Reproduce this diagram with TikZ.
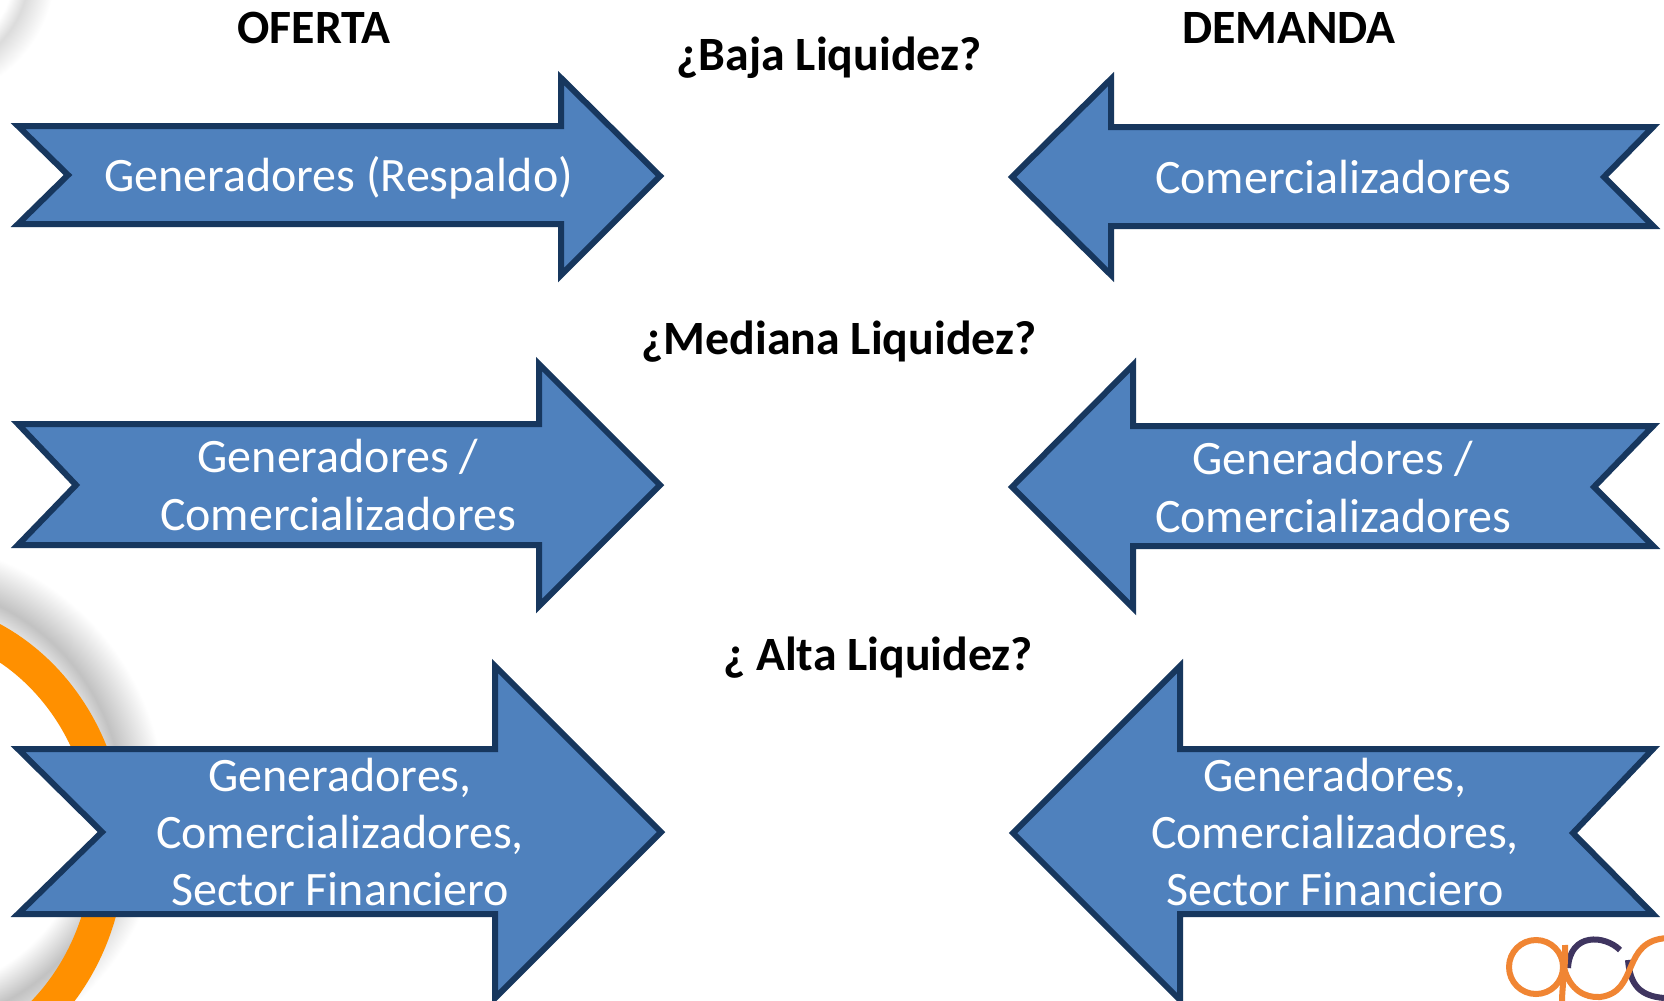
\documentclass[tikz,border=0pt]{standalone}
\usepackage{fontspec}
\setmainfont{Carlito}
\pgfdeclarelayer{bg}
\pgfsetlayers{bg,main}
\pgfdeclareradialshading{halo}{\pgfpoint{0bp}{0bp}}{color(0bp)=(white); color(18bp)=(white); color(21bp)=(black!24); color(25bp)=(white); color(50bp)=(white)}
\pgfdeclareradialshading{halotop}{\pgfpoint{0bp}{0bp}}{color(0bp)=(white); color(17bp)=(white); color(20bp)=(black!14); color(25bp)=(white); color(50bp)=(white)}
\definecolor{arrowfill}{HTML}{4F81BD}
\definecolor{arrowline}{HTML}{17375E}
\definecolor{ringorange}{HTML}{FF9000}
\definecolor{logoorange}{HTML}{F08533}
\definecolor{logopurple}{HTML}{3F3560}
\tikzset{
    arrowbox/.style={draw=arrowline, fill=arrowfill, line width=6*0.2845pt, miter limit=10},
    arrowtext/.style={text=white, align=center, font=\fontsize{13.65}{16.3}\selectfont, inner sep=0mm},
    heading/.style={text=black, font=\fontsize{13.6}{16}\selectfont\bfseries, inner sep=0mm},
    logoline/.style={line width=6*0.2845pt}
}

\begin{document}
\begin{tikzpicture}[x=0.01cm, y=-0.01cm]
    \useasboundingbox (0,0) rectangle (1664,1000);
    \clip (0,0) rectangle (1664,1000);

    \begin{pgfonlayer}{bg}
        \fill [white] (0,0) rectangle (1664,1000);
        \shade [shading=halo] (-100,805) circle (265);
        \shade [shading=halotop] (-75,-30) circle (130);
        \draw [ringorange, line width=33*0.2845pt] (-100,845) ellipse (209 and 230);
        \fill [white] (18,749) -- (102,832) -- (18,914) -- cycle;

        \draw [logoline, logopurple] (1620,950) .. controls (1605,935) and (1570,932) .. (1568,968);
        \draw [logoline, logopurple] (1628,960) .. controls (1630,985) and (1640,996) .. (1664,998);
        \draw [logoline, logoorange] (1536,967) circle (27);
        \draw [logoline, logoorange] (1565,945) .. controls (1566,965) and (1562,985) .. (1562,1002);
        \draw [logoline, logoorange] (1564,968) .. controls (1570,990) and (1585,998) .. (1600,997)
            .. controls (1640,992) and (1620,940) .. (1668,938);
    \end{pgfonlayer}

    \draw [arrowbox] (18,126) -- (561,126) -- (561,78) -- (660,176) -- (561,275) -- (561,224) -- (18,224) -- (68,175) -- cycle;
    \draw [arrowbox] (1653,127) -- (1111,127) -- (1111,79) -- (1012,177) -- (1111,275) -- (1111,226) -- (1653,226) -- (1604,177) -- cycle;
    \draw [arrowbox] (18,424) -- (539,424) -- (539,364) -- (660,485) -- (539,606) -- (539,545) -- (18,545) -- (76,485) -- cycle;
    \draw [arrowbox] (1653,426) -- (1133,426) -- (1133,365) -- (1012,487) -- (1133,608) -- (1133,546) -- (1653,546) -- (1594,487) -- cycle;
    \draw [arrowbox] (18,749) -- (495,749) -- (495,666) -- (661,832) -- (495,998) -- (495,914) -- (18,914) -- (102,832) -- cycle;
    \draw [arrowbox] (1653,749) -- (1180,749) -- (1180,666) -- (1013,833) -- (1180,1000) -- (1180,914) -- (1653,914) -- (1573,833) -- cycle;

    \node (oferta) [heading] at (314,28) {OFERTA};
    \node (demanda) [heading] at (1289,28) {DEMANDA};
    \node (baja) [heading] at (829,58) {¿Baja Liquidez?};
    \node (mediana) [heading] at (839,342) {¿Mediana Liquidez?};
    \node (alta) [heading] at (878,658) {¿ Alta Liquidez?};

    \node (g1) [arrowtext] at (338.5,178) {Generadores (Respaldo)};
    \node (c1) [arrowtext] at (1333,177) {Comercializadores};
    \node (g2) [arrowtext] at (338,485) {Generadores /\\Comercializadores};
    \node (c2) [arrowtext] at (1333,487) {Generadores /\\Comercializadores};
    \node (g3) [arrowtext] at (340,832) {Generadores,\\Comercializadores,\\Sector Financiero};
    \node (c3) [arrowtext] at (1335,832) {Generadores,\\Comercializadores,\\Sector Financiero};
\end{tikzpicture}
\end{document}
